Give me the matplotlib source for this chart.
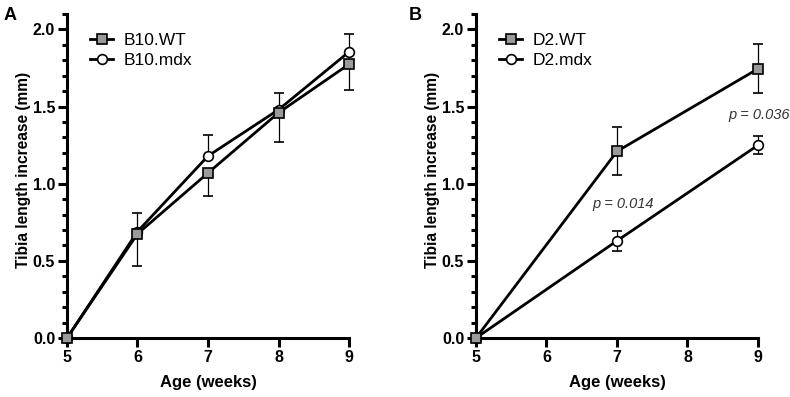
import matplotlib
matplotlib.use("Agg")
from matplotlib import pyplot as plt
from matplotlib.ticker import MultipleLocator
from matplotlib.lines import Line2D
import numpy as np

plt.rcParams['font.family'] = ['Liberation Sans', 'DejaVu Sans']

# panel A: B10 strain
weeks_a = [5, 6, 7, 8, 9]
b10_wt = [0.0, 0.675, 1.07, 1.46, 1.775]
b10_wt_err = [0.0, 0.205, 0.15, 0.19, 0.165]
b10_mdx = [0.0, 0.69, 1.18, 1.48, 1.855]
b10_mdx_err = [0.0, 0.12, 0.135, 0.11, 0.115]

# panel B: D2 strain
weeks_b = [5, 7, 9]
d2_wt = [0.0, 1.21, 1.745]
d2_wt_err = [0.0, 0.155, 0.16]
d2_mdx = [0.0, 0.63, 1.25]
d2_mdx_err = [0.0, 0.065, 0.06]

p_labels = ['p = 0.014', 'p = 0.036']
p_pos = [(7.08, 0.87), (9.01, 1.445)]

GREY = '#9a9a9a'


def draw_panel(ax, x, wt, wt_err, mdx, mdx_err, names, one_sided):
    if one_sided:
        wt_yerr = [wt_err, [0] * len(wt_err)]
        mdx_yerr = [[0] * len(mdx_err), mdx_err]
    else:
        wt_yerr = wt_err
        mdx_yerr = mdx_err
    ax.errorbar(x, mdx, yerr=mdx_yerr, color='black', lw=2.0, marker='o', ms=7,
                mfc='white', mec='black', mew=1.2, ecolor='black', elinewidth=0.9,
                capsize=3.3, capthick=0.9, clip_on=False, zorder=3)
    ax.errorbar(x, wt, yerr=wt_yerr, color='black', lw=2.0, marker='s', ms=7,
                mfc=GREY, mec='black', mew=1.2, ecolor='black', elinewidth=0.9,
                capsize=3.3, capthick=0.9, clip_on=False, zorder=4)

    ax.set_xlim(5, 9)
    ax.set_ylim(0, 2.1)
    ax.set_xticks([5, 6, 7, 8, 9])
    ax.set_yticks([0, 0.5, 1.0, 1.5, 2.0])
    ax.set_yticklabels(['0.0', '0.5', '1.0', '1.5', '2.0'])
    ax.yaxis.set_minor_locator(MultipleLocator(0.1))
    for s in ['top', 'right']:
        ax.spines[s].set_visible(False)
    for s in ['left', 'bottom']:
        ax.spines[s].set_linewidth(2.2)
    ax.tick_params(which='major', length=6.5, width=2.2, labelsize=11.5, pad=2)
    ax.tick_params(which='minor', length=3.5, width=2.2)
    for lab in ax.get_xticklabels() + ax.get_yticklabels():
        lab.set_fontweight('bold')
    ax.set_xlabel('Age (weeks)', fontsize=12, fontweight='bold', labelpad=7)
    ax.set_ylabel('Tibia length increase (mm)', fontsize=11.2, fontweight='bold')
    ax.yaxis.set_label_coords(-0.128, 0.52)

    handles = [
        Line2D([], [], color='black', lw=2.0, marker='s', ms=7, mfc=GREY, mec='black', mew=1.2),
        Line2D([], [], color='black', lw=2.0, marker='o', ms=7, mfc='white', mec='black', mew=1.2),
    ]
    ax.legend(handles, names, loc='upper left', bbox_to_anchor=(0.04, 0.98),
              frameon=False, fontsize=12.5, handlelength=1.3, handletextpad=0.6,
              labelspacing=0.3, borderaxespad=0.3)


fig = plt.figure(figsize=(7.9, 3.97), dpi=100)
ax_a = fig.add_axes([0.0848, 0.1486, 0.357, 0.816])
ax_b = fig.add_axes([0.6025, 0.1486, 0.357, 0.816])

draw_panel(ax_a, weeks_a, b10_wt, b10_wt_err, b10_mdx, b10_mdx_err,
           ['B10.WT', 'B10.mdx'], True)
draw_panel(ax_b, weeks_b, d2_wt, d2_wt_err, d2_mdx, d2_mdx_err,
           ['D2.WT', 'D2.mdx'], False)

for txt, (px, py) in zip(p_labels, p_pos):
    ax_b.text(px, py, txt, ha='center', va='center', fontsize=10.5,
              style='italic', color='#333333', clip_on=False)

fig.text(0.004, 0.962, 'A', fontsize=13, fontweight='bold', va='center')
fig.text(0.517, 0.962, 'B', fontsize=13, fontweight='bold', va='center')

fig.savefig('out.png', dpi=100)
